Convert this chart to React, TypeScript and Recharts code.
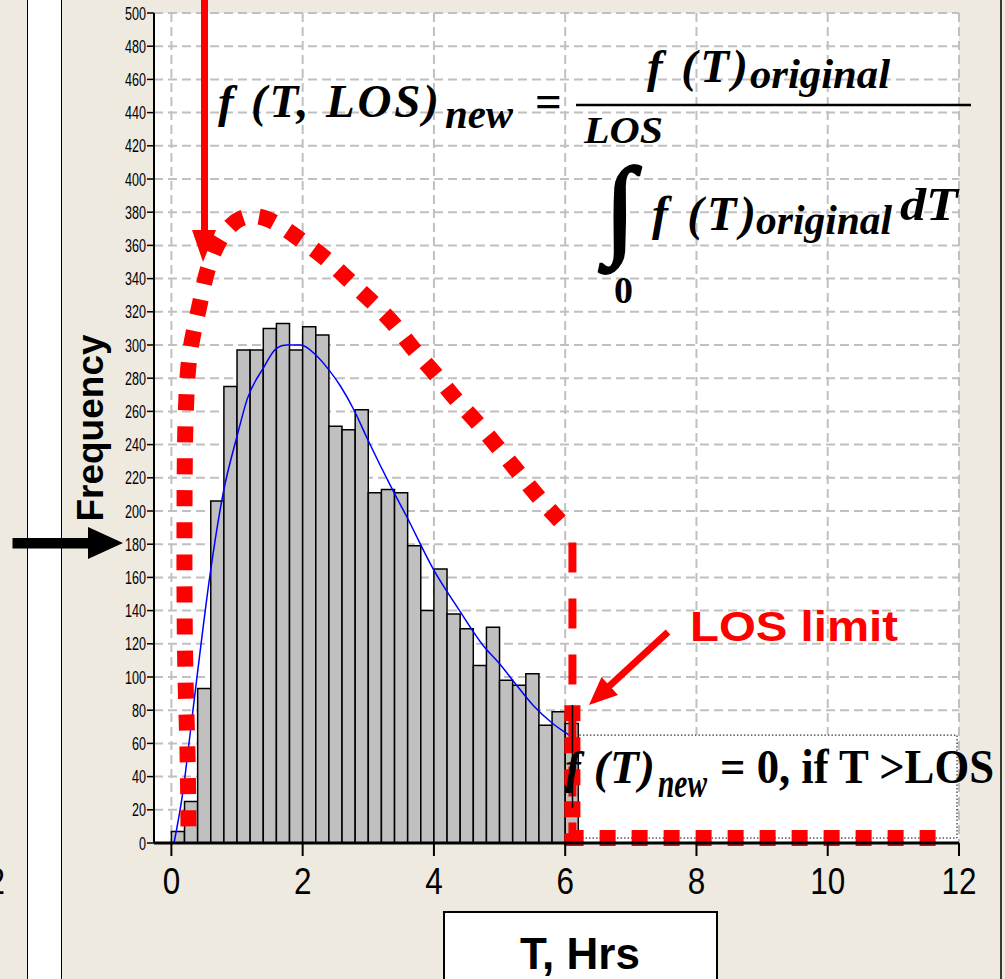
import React from 'react';
import {
  ComposedChart,
  Bar,
  Line,
  XAxis,
  YAxis,
  CartesianGrid,
  ReferenceArea,
  Label,
} from 'recharts';

// histogram of T (0.2 h bins), bin centres and counts
const binCenters = [
  0.1, 0.3, 0.5, 0.7, 0.9, 1.1, 1.3, 1.5, 1.7, 1.9, 2.1, 2.3, 2.5, 2.7, 2.9, 3.1,
  3.3, 3.5, 3.7, 3.9, 4.1, 4.3, 4.5, 4.7, 4.9, 5.1, 5.3, 5.5, 5.7, 5.9, 6.1,
];
const binCounts = [
  7, 25, 93, 206, 275, 297, 297, 310, 313, 297, 311, 306, 251, 249, 261, 211,
  213, 211, 179, 140, 165, 138, 129, 107, 130, 98, 95, 102, 71, 79, 72,
];

// fitted original distribution (blue)
const fitT = [0.04, 0.18, 0.28, 0.39, 0.59, 0.79, 1.0, 1.16, 1.4, 1.6, 1.75, 1.97, 2.2, 2.4, 2.58, 2.78, 2.98, 3.38, 3.58, 3.99, 4.39, 4.75, 5.0, 5.26, 5.51, 5.81, 6.1];
const fitValue = [0, 32, 64, 100, 162, 211, 245, 268, 286, 298, 300, 300, 294, 285, 275, 261, 244, 212, 197, 165, 140, 119, 108, 95, 83, 72, 64];

// truncated / renormalised distribution (red dotted)
const newT = [0.26, 0.245, 0.215, 0.2, 0.2, 0.21, 0.25, 0.33, 0.44, 0.55, 0.75, 1.05, 1.45, 1.91, 2.32, 2.68, 3.03, 3.38, 3.68, 4.01, 4.32, 4.64, 4.96, 5.27, 5.58, 5.92];
const newValue = [10, 55, 100, 150, 200, 245, 283, 306, 326, 345, 364, 376, 376, 365, 353, 340, 327, 313, 298, 283, 268, 254, 239, 224, 209, 194];

// f(T)new = 0 beyond LOS
const zeroT = [6.11, 6.11, 11.66];
const zeroValue = [83, 3, 3];

// LOS limit marker
const losT = [6.11, 6.11];
const losValue = [181, 0];

const xTicks = [0, 2, 4, 6, 8, 10, 12];
const yTicks = [
  0, 20, 40, 60, 80, 100, 120, 140, 160, 180, 200, 220, 240, 260, 280, 300, 320,
  340, 360, 380, 400, 420, 440, 460, 480, 500,
];

const histData = binCenters.map((t, i) => ({ t, count: binCounts[i] }));
const fitData = fitT.map((t, i) => ({ t, value: fitValue[i] }));
const newData = newT.map((t, i) => ({ t, value: newValue[i] }));
const zeroData = zeroT.map((t, i) => ({ t, value: zeroValue[i] }));
const losData = losT.map((t, i) => ({ t, value: losValue[i] }));

const X_DOMAIN: [number, number] = [-0.265, 12];
const SANS = "'Liberation Sans', Arial, sans-serif";
const SERIF = "'Liberation Serif', 'Times New Roman', serif";
const BEIGE = '#EEEAE0';

const YTick = (props: any) => {
  const { x, y, payload } = props;
  return (
    <g transform={`translate(${x},${y})`}>
      <text transform="scale(0.68,1)" x={0} y={0} dy={6.5} textAnchor="end" fontSize={18.5} fontFamily={SANS} fill="#000">
        {payload.value}
      </text>
    </g>
  );
};

const XTick = (props: any) => {
  const { x, y, payload } = props;
  return (
    <g transform={`translate(${x},${y})`}>
      <text transform="scale(0.85,1)" x={0} y={0} dy={36} textAnchor="middle" fontSize={37} fontFamily={SANS} fill="#000">
        {payload.value}
      </text>
    </g>
  );
};

const XLabel = () => (
  <g>
    <rect x={444} y={912} width={273} height={90} fill="#fff" stroke="#000" strokeWidth={2} />
    <text x={580} y={969} textAnchor="middle" fontSize={44} fontWeight="bold" fontFamily={SANS} fill="#000">
      T, Hrs
    </text>
  </g>
);

const YLabel = () => (
  <text transform="translate(103,428) rotate(-90)" textAnchor="middle" fontSize={37} fontWeight="bold" fontFamily={SANS} fill="#000">
    Frequency
  </text>
);

const Annotations = () => (
  <svg
    width={1005}
    height={979}
    style={{ position: 'absolute', left: 0, top: 0, pointerEvents: 'none', overflow: 'visible' }}
  >
    {/* left strip & right edge of the slide */}
    <rect x={27.5} y={-2} width={34} height={985} fill="#fff" stroke="#000" strokeWidth={1} />
    <line x1={1001} x2={1001} y1={0} y2={979} stroke="#000" strokeWidth={1.5} />
    <text transform="translate(5,894) scale(0.85,1)" textAnchor="end" fontSize={37} fontFamily={SANS} fill="#000">
      12
    </text>

    {/* black arrow pointing at the axis */}
    <rect x={12.5} y={538} width={77} height={10.5} fill="#000" />
    <polygon points="88,527 123,543 88,559" fill="#000" />

    {/* red arrow from the top */}
    <line x1={204.5} x2={204.5} y1={0} y2={236} stroke="#ff0000" strokeWidth={7} />
    <polygon points="192,230 216,230 203,262" fill="#ff0000" />

    {/* LOS limit arrow */}
    <line x1={668} y1={632} x2={604} y2={691} stroke="#ff0000" strokeWidth={7} />
    <polygon points="589,705 601.5,677 618,695" fill="#ff0000" />
    <text x={690} y={641} fontSize={43} fontWeight="bold" fontFamily={SANS} fill="#ff0000" textLength={208} lengthAdjust="spacingAndGlyphs">
      LOS limit
    </text>

    {/* normalisation formula */}
    <g fontFamily={SERIF} fontWeight="bold" fill="#000">
      <text x={218} y={117} fontSize={47} fontStyle="italic" textLength={221} lengthAdjust="spacing">
        f (T, LOS)
      </text>
      <text x={445} y={128} fontSize={40} fontStyle="italic" textLength={68} lengthAdjust="spacingAndGlyphs">
        new
      </text>
      <text x={535} y={117} fontSize={47}>=</text>
      <line x1={576} x2={971} y1={105} y2={105} stroke="#000" strokeWidth={2.5} />
      <text x={647} y={82} fontSize={47} fontStyle="italic" textLength={101} lengthAdjust="spacing">
        f (T)
      </text>
      <text x={750} y={88} fontSize={42} fontStyle="italic" textLength={140} lengthAdjust="spacingAndGlyphs">
        original
      </text>
      <text x={584} y={143} fontSize={38} fontStyle="italic" textLength={79} lengthAdjust="spacingAndGlyphs">
        LOS
      </text>
      <text x={605} y={244} fontSize={110} stroke="#000" strokeWidth={3}>∫</text>
      <text x={614} y={303} fontSize={38}>0</text>
      <text x={652} y={230} fontSize={48} fontStyle="italic" textLength={104} lengthAdjust="spacing">
        f (T)
      </text>
      <text x={756} y={234} fontSize={42} fontStyle="italic" textLength={136} lengthAdjust="spacingAndGlyphs">
        original
      </text>
      <text x={900} y={220} fontSize={46} fontStyle="italic" textLength={58} lengthAdjust="spacingAndGlyphs">
        dT
      </text>
    </g>

    {/* f(T)new = 0 box text */}
    <line x1={572.5} x2={572.5} y1={705} y2={808} stroke="#000" strokeWidth={1.5} />
    <g fontFamily={SERIF} fontWeight="bold" fill="#000">
      <text x={565} y={783} fontSize={47} fontStyle="italic" textLength={90} lengthAdjust="spacing">
        f (T)
      </text>
      <text x={658} y={797} fontSize={40} fontStyle="italic" textLength={49} lengthAdjust="spacingAndGlyphs">
        new
      </text>
      <text x={720} y={783} fontSize={48} textLength={274} lengthAdjust="spacingAndGlyphs">
        = 0, if  T &gt;LOS
      </text>
    </g>
  </svg>
);

export default function App() {
  return (
    <div
      style={{
        position: 'absolute',
        left: 0,
        top: 0,
        width: 1005,
        height: 979,
        background: BEIGE,
        overflow: 'hidden',
      }}
    >
      <ComposedChart
        width={1005}
        height={979}
        data={histData}
        margin={{ top: 13, right: 46, bottom: 76, left: 94 }}
        barGap={0}
        barCategoryGap={0}
      >
        <CartesianGrid fill="#fff" stroke="#c0c0c0" strokeDasharray="9 5" strokeWidth={2} />
        <XAxis
          dataKey="t"
          type="number"
          domain={X_DOMAIN}
          ticks={xTicks}
          interval={0}
          allowDataOverflow
          height={60}
          tickSize={13}
          tickMargin={2}
          tick={<XTick />}
          tickLine={{ stroke: '#000', strokeWidth: 2 }}
          axisLine={{ stroke: '#000', strokeWidth: 3 }}
        >
          <Label content={<XLabel />} />
        </XAxis>
        {/* same scale, used by the curves so their repeated x values don't shrink the bars */}
        <XAxis xAxisId="curves" dataKey="t" type="number" domain={X_DOMAIN} allowDataOverflow hide />
        <XAxis
          xAxisId="top"
          orientation="top"
          type="number"
          domain={X_DOMAIN}
          height={0}
          tick={false}
          tickLine={false}
          axisLine={{ stroke: '#000', strokeWidth: 3 }}
        />
        <YAxis
          type="number"
          domain={[0, 500]}
          ticks={yTicks}
          interval={0}
          width={60}
          tickSize={7}
          tickMargin={1}
          tick={<YTick />}
          tickLine={{ stroke: '#000', strokeWidth: 1.5 }}
          axisLine={{ stroke: '#000', strokeWidth: 2 }}
        >
          <Label content={<YLabel />} />
        </YAxis>
        <YAxis
          yAxisId="right"
          orientation="right"
          type="number"
          domain={[0, 500]}
          width={0}
          tick={false}
          tickLine={false}
          axisLine={{ stroke: '#000', strokeWidth: 2 }}
        />
        <Bar dataKey="count" fill="#c0c0c0" stroke="#000" strokeWidth={1.5} barSize={13.1} isAnimationActive={false} />
        <ReferenceArea
          xAxisId="curves"
          x1={6.11}
          x2={11.97}
          y1={3}
          y2={65}
          fill="#fff"
          fillOpacity={1}
          stroke="#000"
          strokeWidth={1}
          strokeDasharray="1.5 2"
          ifOverflow="visible"
        />
        <Line xAxisId="curves" data={fitData} dataKey="value" type="monotone" stroke="#0000ff" strokeWidth={1.5} dot={false} isAnimationActive={false} />
        <Line xAxisId="curves" data={losData} dataKey="value" type="linear" stroke="#ff0000" strokeWidth={8} strokeDasharray="30 26" dot={false} isAnimationActive={false} />
        <Line xAxisId="curves" data={newData} dataKey="value" type="natural" stroke="#ff0000" strokeWidth={16} strokeDasharray="16 16" dot={false} isAnimationActive={false} />
        <Line xAxisId="curves" data={zeroData} dataKey="value" type="linear" stroke="#ff0000" strokeWidth={16} strokeDasharray="16 16" dot={false} isAnimationActive={false} />
      </ComposedChart>
      <Annotations />
    </div>
  );
}
